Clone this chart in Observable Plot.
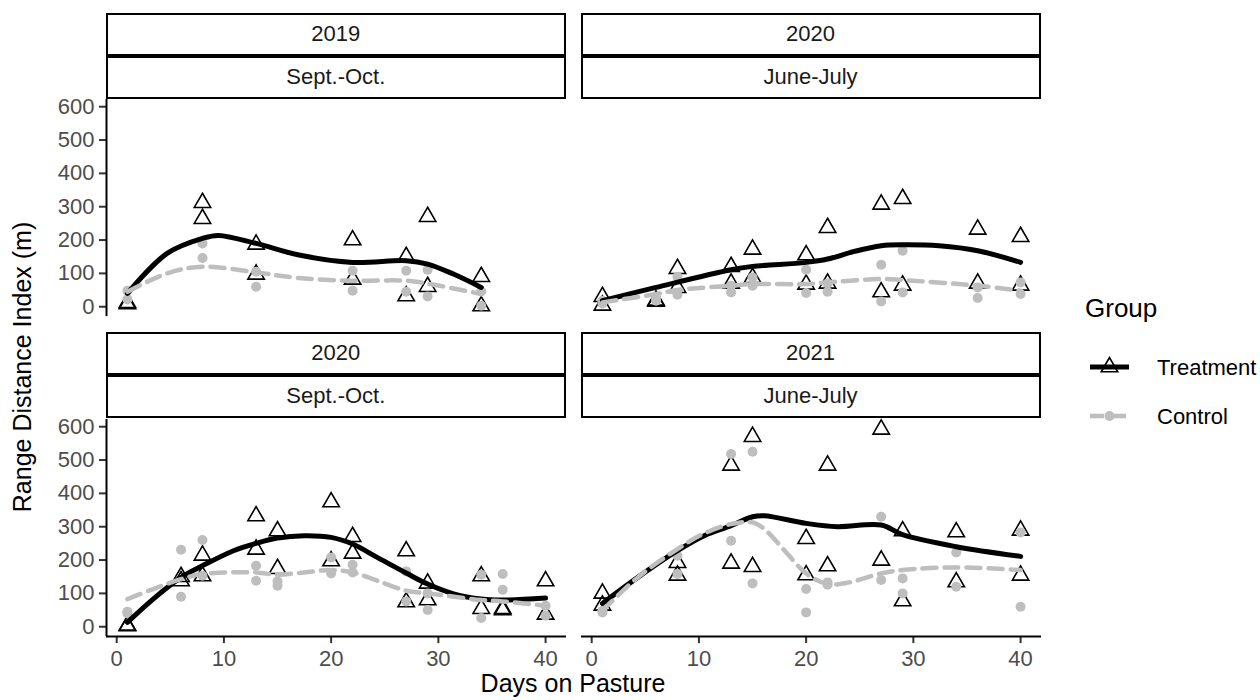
<!DOCTYPE html>
<html><head><meta charset="utf-8">
<script src="https://cdn.jsdelivr.net/npm/d3@7"></script>
<script src="https://cdn.jsdelivr.net/npm/@observablehq/plot@0.6"></script>
<style>
body{margin:0;background:#fff;font-family:"Liberation Sans",Arial,sans-serif;}
#wrap{position:relative;width:1260px;height:700px;overflow:hidden;background:#fff;}
.strip{position:absolute;box-sizing:border-box;border:2.5px solid #000;background:#fff;display:flex;align-items:center;justify-content:center;font-size:22px;color:#1a1a1a;}
.panel{position:absolute;}
.panel svg{overflow:visible;}
</style></head><body><div id="wrap"></div>
<script>
// ---------- data ----------
const panelYears = ["2019", "2020", "2020", "2021"];
const panelSeasons = ["Sept.-Oct.", "June-July", "Sept.-Oct.", "June-July"];
const groups = ["Treatment", "Control"];
const xTicks = [0, 10, 20, 30, 40];
const yTicks = [0, 100, 200, 300, 400, 500, 600];

// Panel 1: 2019 Sept.-Oct.
const p1Days = [1, 8, 13, 22, 27, 29, 34];
const p1TreatA = [12, 312, 187, 200, 150, 270, 90];
const p1TreatB = [8, 264, 97, 82, 32, 60, 2];
const p1CtrlA = [48, 190, 105, 108, 108, 111, 46];
const p1CtrlB = [22, 146, 60, 48, 45, 31, 3];
const p1TreatFitX = [1, 4.7, 8, 9.5, 13, 17, 22, 27, 29, 31.4, 34];
const p1TreatFitY = [40, 160, 205, 214, 190, 155, 133, 138, 128, 98, 58];
const p1CtrlFitX = [1, 4.7, 8, 13, 17, 22, 27, 29.6, 34];
const p1CtrlFitY = [45, 100, 120, 103, 86, 78, 78, 66, 38];

// Panel 2: 2020 June-July
const p2Days = [1, 6, 8, 13, 15, 20, 22, 27, 29, 36, 40];
const p2TreatA = [30, 19, 114, 120, 172, 155, 237, 307, 324, 232, 210];
const p2TreatB = [4, 16, 57, 70, 87, 67, 70, 44, 64, 70, 64];
const p2CtrlA = [18, 28, 90, 63, 88, 111, 70, 126, 168, 58, 73];
const p2CtrlB = [10, 18, 36, 43, 63, 41, 45, 16, 43, 26, 38];
const p2TreatFitX = [1, 6, 13, 15, 20, 22, 24.5, 27, 29, 32.4, 36, 40];
const p2TreatFitY = [18, 58, 111, 121, 133, 143, 166, 183, 186, 183, 168, 133];
const p2CtrlFitX = [1, 6, 8, 13, 15, 20, 22, 27, 29, 36, 40];
const p2CtrlFitY = [13, 38, 50, 63, 68, 68, 73, 83, 80, 63, 48];

// Panel 3: 2020 Sept.-Oct.
const p3Days = [1, 6, 8, 13, 15, 20, 22, 27, 29, 34, 36, 40];
const p3TreatA = [2, 150, 214, 332, 287, 374, 270, 227, 130, 152, 54, 137];
const p3TreatB = [4, 137, 152, 232, 174, 197, 220, 74, 80, 54, 50, 37];
const p3CtrlA = [45, 231, 260, 183, 136, 208, 186, 166, 100, 156, 158, 63];
const p3CtrlB = [40, 90, 153, 138, 123, 160, 163, 76, 50, 26, 111, 33];
const p3TreatFitX = [1, 3.4, 6, 8, 10.9, 13, 15, 17.5, 20, 22, 24.3, 27, 29, 31.5, 34, 36, 40];
const p3TreatFitY = [13, 83, 148, 183, 228, 250, 266, 273, 268, 248, 208, 161, 128, 98, 83, 80, 86];
const p3CtrlFitX = [1, 3.4, 6, 8, 13, 15, 17.5, 20, 22, 24.3, 27, 29, 31.5, 34, 36, 40];
const p3CtrlFitY = [83, 113, 143, 158, 163, 156, 163, 170, 163, 138, 108, 100, 90, 80, 76, 63];

// Panel 4: 2021 June-July
const p4Days = [1, 8, 13, 15, 20, 22, 27, 29, 34, 40];
const p4TreatA = [100, 192, 484, 570, 264, 484, 592, 287, 284, 289];
const p4TreatB = [64, 154, 190, 180, 155, 182, 199, 77, 134, 154];
const p4CtrlA = [48, 213, 518, 525, 113, 133, 330, 145, 223, 283];
const p4CtrlB = [43, 158, 258, 130, 43, 126, 140, 100, 120, 60];
const p4TreatFitX = [1, 4.3, 8, 10.5, 13, 15, 16.1, 20, 22.9, 27, 29, 34, 40];
const p4TreatFitY = [70, 148, 228, 273, 303, 330, 333, 310, 300, 305, 276, 240, 211];
const p4CtrlFitX = [1, 4.3, 8, 10.5, 13, 15, 16.1, 18, 20, 22, 24, 27, 29, 34, 40];
const p4CtrlFitY = [48, 148, 233, 280, 308, 313, 293, 228, 160, 128, 133, 160, 170, 178, 170];

// ---------- build ----------
const panels = [
  {days: p1Days, tA: p1TreatA, tB: p1TreatB, cA: p1CtrlA, cB: p1CtrlB, tfx: p1TreatFitX, tfy: p1TreatFitY, cfx: p1CtrlFitX, cfy: p1CtrlFitY},
  {days: p2Days, tA: p2TreatA, tB: p2TreatB, cA: p2CtrlA, cB: p2CtrlB, tfx: p2TreatFitX, tfy: p2TreatFitY, cfx: p2CtrlFitX, cfy: p2CtrlFitY},
  {days: p3Days, tA: p3TreatA, tB: p3TreatB, cA: p3CtrlA, cB: p3CtrlB, tfx: p3TreatFitX, tfy: p3TreatFitY, cfx: p3CtrlFitX, cfy: p3CtrlFitY},
  {days: p4Days, tA: p4TreatA, tB: p4TreatB, cA: p4CtrlA, cB: p4CtrlB, tfx: p4TreatFitX, tfy: p4TreatFitY, cfx: p4CtrlFitX, cfy: p4CtrlFitY}
];

const xDomain = [-0.95, 41.95];
const yDomain = [-29.6, 621.6];
const PW = 460, PH = 217.1;
const colLeft = [105.8, 580.5];
const rowTop = [98.8, 418.8];
const stripTop = [13, 332];
const wrap = document.getElementById("wrap");
const FONT = "'Liberation Sans', Arial, sans-serif";

panels.forEach((p, i) => {
  const col = i % 2, row = Math.floor(i / 2);
  const showY = col === 0, showX = row === 1;
  const mL = showY ? 70 : 0;
  const mB = showX ? 45 : 0;
  const pts = [];
  p.days.forEach((d, j) => {
    pts.push({day: d, val: p.tA[j], group: "Treatment"});
    pts.push({day: d, val: p.tB[j], group: "Treatment"});
  });
  p.days.forEach((d, j) => {
    pts.push({day: d, val: p.cA[j], group: "Control"});
    pts.push({day: d, val: p.cB[j], group: "Control"});
  });
  const tFit = p.tfx.map((x, j) => ({day: x, val: p.tfy[j]}));
  const cFit = p.cfx.map((x, j) => ({day: x, val: p.cfy[j]}));
  const marks = [];
  if (showY) {
    marks.push(Plot.axisY({ticks: yTicks, tickSize: 7, tickPadding: 5, label: null, fontSize: 22, fill: "#4d4d4d", stroke: "#333", strokeWidth: 2}));
    marks.push(Plot.ruleX([xDomain[0]], {stroke: "#000", strokeWidth: 2}));
  }
  if (showX) {
    marks.push(Plot.axisX({ticks: xTicks, tickSize: 7, tickPadding: 7, label: null, fontSize: 22, fill: "#4d4d4d", stroke: "#333", strokeWidth: 2}));
    marks.push(Plot.ruleY([yDomain[0]], {stroke: "#000", strokeWidth: 2}));
  }
  marks.push(
    Plot.dot(pts.filter(d => d.group === "Treatment"), {x: "day", y: "val", symbol: "triangle", r: 6.1, fill: "none", stroke: "#000", strokeWidth: 1.6}),
    Plot.dot(pts.filter(d => d.group === "Control"), {x: "day", y: "val", r: 5, fill: "#bebebe", stroke: null}),
    Plot.line(tFit, {x: "day", y: "val", stroke: "#000", strokeWidth: 5, curve: "catmull-rom"}),
    Plot.line(cFit, {x: "day", y: "val", stroke: "#bebebe", strokeWidth: 4.5, strokeDasharray: "14,8", curve: "catmull-rom"})
  );
  const chart = Plot.plot({
    width: PW + mL, height: PH + mB,
    marginLeft: mL, marginRight: 0, marginTop: 0, marginBottom: mB,
    x: {domain: xDomain, axis: null},
    y: {domain: yDomain, axis: null},
    style: {fontFamily: FONT, background: "transparent", overflow: "visible"},
    marks
  });
  const div = document.createElement("div");
  div.className = "panel";
  div.style.left = (colLeft[col] - mL) + "px";
  div.style.top = rowTop[row] + "px";
  div.appendChild(chart);
  wrap.appendChild(div);

  // strips
  const s1 = document.createElement("div");
  s1.className = "strip";
  s1.style.left = colLeft[col] + "px"; s1.style.width = PW + "px";
  s1.style.top = stripTop[row] + "px"; s1.style.height = "42.5px";
  s1.textContent = panelYears[i];
  const s2 = document.createElement("div");
  s2.className = "strip";
  s2.style.left = colLeft[col] + "px"; s2.style.width = PW + "px";
  s2.style.top = (stripTop[row] + 42.5) + "px"; s2.style.height = "43px";
  s2.textContent = panelSeasons[i];
  wrap.appendChild(s1); wrap.appendChild(s2);
});

// titles and legend overlay
const ov = document.createElementNS("http://www.w3.org/2000/svg", "svg");
ov.setAttribute("width", 1260); ov.setAttribute("height", 700);
ov.style.position = "absolute"; ov.style.left = "0"; ov.style.top = "0"; ov.style.pointerEvents = "none";
ov.style.fontFamily = FONT;
const triPath = (cx, cy) => { const y = 4.75, s = Math.sqrt(3); return `M${cx},${cy - 2 * y}L${cx - s * y},${cy + y}L${cx + s * y},${cy + y}Z`; };
ov.innerHTML = `
  <text x="573" y="692" text-anchor="middle" font-size="25" fill="#000">Days on Pasture</text>
  <text transform="translate(31,367) rotate(-90)" text-anchor="middle" font-size="25" fill="#000">Range Distance Index (m)</text>
  <text x="1085" y="317" font-size="26" fill="#000">Group</text>
  <line x1="1090" x2="1129" y1="367" y2="367" stroke="#000" stroke-width="5"/>
  <path d="${triPath(1109.5, 367)}" fill="none" stroke="#000" stroke-width="1.6"/>
  <text x="1157" y="367" dy="0.35em" font-size="22" fill="#000">${groups[0]}</text>
  <line x1="1090" x2="1129" y1="416" y2="416" stroke="#bebebe" stroke-width="4.5" stroke-dasharray="14,8"/>
  <circle cx="1109.5" cy="416" r="5" fill="#bebebe"/>
  <text x="1157" y="416" dy="0.35em" font-size="22" fill="#000">${groups[1]}</text>
`;
wrap.appendChild(ov);
</script></body></html>
